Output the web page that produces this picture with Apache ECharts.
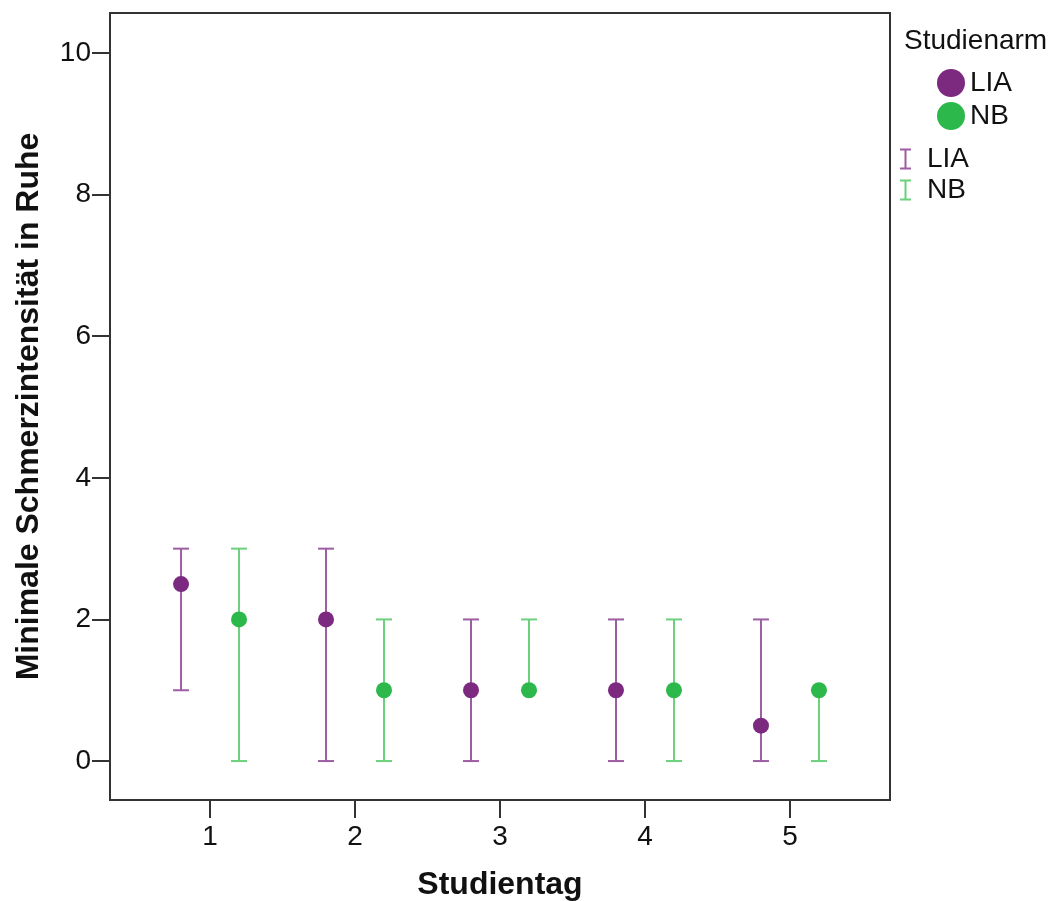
<!DOCTYPE html>
<html>
<head>
<meta charset="utf-8">
<script src="https://cdn.jsdelivr.net/npm/echarts@6/dist/echarts.min.js"></script>
<style>
html,body{margin:0;padding:0;background:#fff;}
#chart{width:1052px;height:901px;}
</style>
</head>
<body>
<div id="chart"></div>
<script>
const days = [1, 2, 3, 4, 5];
const xTicks = [1, 2, 3, 4, 5];
const yTicks = [0, 2, 4, 6, 8, 10];
const liaMedian = [2.5, 2, 1, 1, 0.5];
const liaLow = [1, 0, 0, 0, 0];
const liaHigh = [3, 3, 2, 2, 2];
const nbMedian = [2, 1, 1, 1, 1];
const nbLow = [0, 0, 1, 0, 0];
const nbHigh = [3, 2, 2, 2, 1];
const offset = 0.2;

const PURPLE = '#7b2a80';
const PURPLE_BAR = '#9d5da3';
const GREEN = '#2db84b';
const GREEN_BAR = '#6cd07c';
const FONT = 'Liberation Sans, Arial, Helvetica, sans-serif';

function errData(lo, hi, off) {
  return days.map((d, i) => [d + off, lo[i], hi[i]]);
}
function ptData(med, off) {
  return days.map((d, i) => [d + off, med[i]]);
}
function errRender(color) {
  return function (params, api) {
    const x = api.value(0);
    const lo = api.coord([x, api.value(1)]);
    const hi = api.coord([x, api.value(2)]);
    const hw = 8;
    const style = { stroke: color, lineWidth: 2, fill: null };
    return {
      type: 'group',
      children: [
        { type: 'line', shape: { x1: lo[0], y1: lo[1], x2: hi[0], y2: hi[1] }, style },
        { type: 'line', shape: { x1: lo[0] - hw, y1: lo[1], x2: lo[0] + hw, y2: lo[1] }, style },
        { type: 'line', shape: { x1: hi[0] - hw, y1: hi[1], x2: hi[0] + hw, y2: hi[1] }, style }
      ]
    };
  };
}

const chart = echarts.init(document.getElementById('chart'), null, { renderer: 'canvas' });
const IPATH = 'path://M0,0h11v2h-4.5v17h4.5v2h-11v-2h4.5v-17h-4.5z';

chart.setOption({
  animation: false,
  backgroundColor: '#fff',
  textStyle: { fontFamily: FONT },
  title: {
    text: 'Studienarm',
    left: 904, top: 27,
    padding: 0,
    textStyle: { fontFamily: FONT, fontSize: 28, fontWeight: 'normal', color: '#111' }
  },
  legend: [
    {
      left: 937, top: 69, orient: 'vertical', padding: 0,
      itemWidth: 28, itemHeight: 28, itemGap: 5,
      textStyle: { fontFamily: FONT, fontSize: 28, color: '#111' },
      data: [
        { name: 'LIA', icon: 'circle', itemStyle: { color: PURPLE } },
        { name: 'NB', icon: 'circle', itemStyle: { color: GREEN } }
      ],
      selectedMode: false
    },
    {
      left: 900, top: 145, orient: 'vertical', padding: 0,
      itemWidth: 11, itemHeight: 21, itemGap: 3,
      textStyle: { fontFamily: FONT, fontSize: 28, color: '#111', padding: [0, 0, 0, 11] },
      data: [
        { name: 'LIA ', icon: IPATH, itemStyle: { color: PURPLE_BAR } },
        { name: 'NB ', icon: IPATH, itemStyle: { color: GREEN_BAR } }
      ],
      selectedMode: false
    }
  ],
  grid: {
    left: 110, right: 162, top: 13, bottom: 101,
    outerBoundsMode: 'none',
    containLabel: false,
    show: true, borderColor: '#333', borderWidth: 2, backgroundColor: '#fff'
  },
  xAxis: {
    type: 'value',
    min: 0.31, max: 5.69,
    name: 'Studientag',
    nameLocation: 'middle',
    nameGap: 69,
    nameTextStyle: { fontFamily: FONT, fontSize: 32, fontWeight: 'bold', color: '#111', verticalAlign: 'top' },
    axisLine: { show: true, onZero: false, lineStyle: { color: '#333', width: 2 } },
    axisTick: { show: true, length: 18, customValues: xTicks, lineStyle: { color: '#333', width: 2 } },
    axisLabel: { customValues: xTicks, margin: 23, fontFamily: FONT, fontSize: 28, color: '#111' },
    splitLine: { show: false }
  },
  yAxis: {
    type: 'value',
    min: -0.55, max: 10.565,
    name: 'Minimale Schmerzintensität in Ruhe',
    nameLocation: 'middle',
    nameGap: 65,
    nameTextStyle: { fontFamily: FONT, fontSize: 32, fontWeight: 'bold', color: '#111' },
    axisLine: { show: true, onZero: false, lineStyle: { color: '#333', width: 2 } },
    axisTick: { show: true, length: 18, customValues: yTicks, lineStyle: { color: '#333', width: 2 } },
    axisLabel: { customValues: yTicks, margin: 19, fontFamily: FONT, fontSize: 28, color: '#111' },
    splitLine: { show: false }
  },
  series: [
    {
      name: 'LIA ', type: 'custom', renderItem: errRender(PURPLE_BAR),
      itemStyle: { color: PURPLE_BAR },
      encode: { x: 0, y: [1, 2] },
      data: errData(liaLow, liaHigh, -offset), z: 2
    },
    {
      name: 'NB ', type: 'custom', renderItem: errRender(GREEN_BAR),
      itemStyle: { color: GREEN_BAR },
      encode: { x: 0, y: [1, 2] },
      data: errData(nbLow, nbHigh, offset), z: 2
    },
    {
      name: 'LIA', type: 'scatter', symbol: 'circle', symbolSize: 16,
      itemStyle: { color: PURPLE, opacity: 1 },
      data: ptData(liaMedian, -offset), z: 3
    },
    {
      name: 'NB', type: 'scatter', symbol: 'circle', symbolSize: 16,
      itemStyle: { color: GREEN, opacity: 1 },
      data: ptData(nbMedian, offset), z: 3
    }
  ]
});
</script>
</body>
</html>
